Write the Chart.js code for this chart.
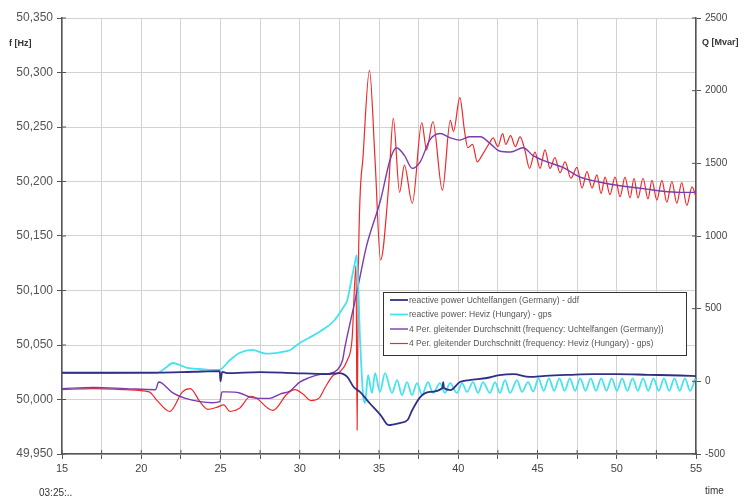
<!DOCTYPE html>
<html>
<head>
<meta charset="utf-8">
<script src="https://cdn.jsdelivr.net/npm/chart.js@4/dist/chart.umd.min.js"></script>
<style>
  html, body { margin: 0; padding: 0; background: #fff; }
  #wrap { width: 745px; height: 500px; }
</style>
</head>
<body>
<div id="wrap"><canvas id="chart" width="745" height="500"></canvas></div>
<script>
// reactive power Uchtelfangen (Mvar)
const qUchtT = [15, 18, 21, 23.3, 24.95, 25.0, 25.1, 25.4, 27.5, 29.6, 31.7, 32.5, 33.0, 33.4, 33.8, 34.4, 35.1, 35.6, 36.3, 36.8,
  37.1, 37.6, 38.2, 39.0, 39.05, 39.1, 39.5, 40.1, 40.7, 41.8, 42.6, 43.5, 44.5, 45.5, 47, 48.5, 50, 52, 54, 55];
const qUchtV = [59, 59, 60, 66, 70, 0, 65, 57, 64, 57, 50, 57, 30, -39, -73, -149, -232, -301, -287, -266,
  -197, -108, -73, -46, -5, -46, -60, -5, 9, 23, 43, 50, 30, 38, 45, 50, 50, 45, 40, 36];

// reactive power Heviz (Mvar)
const qHevT = [15, 18, 21, 21.5, 22.0, 22.5, 22.9, 23.7, 24.5, 24.9, 25.6, 26.2, 27.0, 27.9, 28.75, 29.4, 30.0, 30.6, 31.3, 32.1,
  32.7, 33.0, 33.2, 33.45, 33.6, 33.8, 34.0, 34.12, 34.31, 34.56, 34.75, 35.06, 35.38, 35.82, 36.14, 36.45, 36.77, 37.08, 37.40, 37.71,
  38.09, 38.41, 38.85, 39.16, 39.48, 39.92, 40.24, 40.55, 40.93, 41.25, 41.56, 42.00, 42.32, 42.63, 42.95, 43.27, 43.71, 44.02, 44.40, 44.73,
  45.06, 45.39, 45.72, 46.05, 46.38, 46.71, 47.04, 47.37, 47.70, 48.03, 48.36, 48.69, 49.02, 49.35, 49.68, 50.01, 50.34, 50.67, 51.00, 51.33,
  51.66, 51.99, 52.32, 52.65, 52.98, 53.31, 53.64, 53.97, 54.30, 54.63, 54.96];
const qHevV = [57, 57, 57, 90, 126, 110, 92, 85, 78, 78, 147, 195, 216, 190, 200, 216, 264, 300, 345, 410,
  500, 560, 663, 800, 869, 300, -100, -149, 43, -80, 57, -73, 57, -80, 9, -94, -5, -94, -12, -94,
  -5, -80, -12, -80, -12, -80, -12, -73, -5, -80, -5, -80, -5, -80, 9, -80, 9, -73, -5, -70,
  20, -65, 20, -65, 20, -65, 20, -65, 20, -65, 20, -65, 20, -65, 20, -65, 20, -65, 20, -65,
  20, -65, 20, -65, 20, -65, 20, -65, 20, -65, 20];

// 4 Per. gleitender Durchschnitt, frequency Uchtelfangen (Hz)
const fUchtT = [15, 17, 19, 20.9, 21.1, 21.3, 22.0, 22.8, 23.7, 24.5, 24.95, 25.1, 25.4, 26.2, 26.9, 27.5, 28.1, 28.75, 29.4, 30.0,
  30.6, 31.3, 31.9, 32.35, 32.7, 32.85, 33.6, 34.2, 35.1, 35.7, 36.1, 36.6, 37.1, 37.6, 38.2, 38.85, 39.5, 40.1, 40.7, 41.4,
  42.0, 42.6, 43.3, 44.1, 44.7, 45.6, 46.6, 47.7, 48.75, 49.8, 50.8, 51.9, 52.9, 54.0, 55];
const fUchtV = [50.010, 50.011, 50.010, 50.009, 50.016, 50.015, 50.006, 50.001, 49.998, 49.997, 49.998, 50.007, 50.007, 50.006, 50.002, 50.001, 50.001, 50.005, 50.008, 50.016,
  50.020, 50.023, 50.024, 50.027, 50.036, 50.048, 50.098, 50.140, 50.183, 50.220, 50.231, 50.224, 50.212, 50.218, 50.238, 50.244, 50.240, 50.238, 50.241, 50.241,
  50.235, 50.228, 50.227, 50.231, 50.224, 50.218, 50.213, 50.204, 50.200, 50.197, 50.195, 50.193, 50.191, 50.190, 50.190];

// 4 Per. gleitender Durchschnitt, frequency Heviz (Hz)
const fHevT = [15, 17, 19, 20.5, 21.0, 21.8, 22.6, 23.1, 23.7, 24.2, 24.8, 25.2, 25.6, 26.2, 26.9, 27.3, 27.9, 28.3, 29.2, 29.7,
  30.2, 30.7, 31.2, 31.6, 32.1, 32.5, 33.0, 33.3, 33.55, 33.62, 33.7, 34.0, 34.4, 34.75, 35.1, 35.6, 35.9, 36.3, 36.6, 37.1,
  37.7, 38.0, 38.4, 39.0, 39.5, 39.7, 40.1, 40.4, 40.6, 40.9, 41.2, 41.5, 42.0, 42.2, 42.5, 42.8, 43.0, 43.3, 43.6, 43.9,
  44.2, 44.5, 44.84, 45.16, 45.47, 45.79, 46.10, 46.42, 46.74, 47.11, 47.49, 47.81, 48.12, 48.44, 48.75, 49.01, 49.26, 49.57, 49.89, 50.21,
  50.52, 50.84, 51.09, 51.34, 51.66, 51.97, 52.22, 52.53, 52.85, 53.16, 53.48, 53.79, 54.10, 54.42, 54.75, 55];
const fHevV = [50.009, 50.010, 50.009, 50.007, 49.999, 49.989, 50.007, 50.010, 49.998, 49.991, 49.993, 49.995, 49.989, 49.992, 50.003, 50.001, 49.993, 49.990, 50.005, 50.009,
  50.005, 49.999, 50.001, 50.011, 50.022, 50.025, 50.036, 50.055, 50.123, 49.972, 50.123, 50.224, 50.302, 50.220, 50.128, 50.194, 50.258, 50.190, 50.215, 50.180,
  50.254, 50.229, 50.255, 50.192, 50.256, 50.246, 50.277, 50.246, 50.231, 50.234, 50.218, 50.224, 50.236, 50.240, 50.232, 50.244, 50.234, 50.242, 50.232, 50.241,
  50.229, 50.212, 50.227, 50.212, 50.229, 50.212, 50.222, 50.208, 50.218, 50.203, 50.213, 50.194, 50.209, 50.194, 50.206, 50.189, 50.204, 50.188, 50.204, 50.186,
  50.204, 50.185, 50.203, 50.185, 50.203, 50.184, 50.201, 50.183, 50.201, 50.181, 50.200, 50.180, 50.199, 50.178, 50.195, 50.186];

const seriesLabels = [
  'reactive power Uchtelfangen (Germany) - ddf',
  'reactive power: Heviz (Hungary) - gps',
  '4 Per. gleitender Durchschnitt (frequency: Uchtelfangen (Germany))',
  '4 Per. gleitender Durchschnitt (frequency: Heviz (Hungary) - gps)'
];

function pts(t, v) {
  return t.map((x, i) => ({x: x, y: v[i]}));
}

const axisFont = 'Liberation Sans, Arial, sans-serif';

// little crosses on the axes, like the original spreadsheet chart
const crossTicks = {
  id: 'crossTicks',
  afterDraw(chart) {
    const c = chart.ctx, ca = chart.chartArea;
    c.save();
    c.strokeStyle = '#555';
    c.lineWidth = 1;
    c.beginPath();
    chart.scales.x.ticks.forEach(t => {
      const px = chart.scales.x.getPixelForValue(t.value);
      c.moveTo(px, ca.bottom - 4);
      c.lineTo(px, ca.bottom);
    });
    chart.scales.yF.ticks.forEach(t => {
      const py = chart.scales.yF.getPixelForValue(t.value);
      c.moveTo(ca.left, py);
      c.lineTo(ca.left + 4, py);
    });
    chart.scales.yQ.ticks.forEach(t => {
      const py = chart.scales.yQ.getPixelForValue(t.value);
      c.moveTo(ca.right - 4, py);
      c.lineTo(ca.right, py);
    });
    c.stroke();
    c.restore();
  }
};

const textPlugin = {
  id: 'texts',
  afterDraw(chart) {
    const c = chart.ctx;
    c.save();
    c.fillStyle = '#333';
    c.font = 'bold 9px ' + axisFont;
    c.textBaseline = 'middle';
    c.textAlign = 'left';
    c.fillText('f [Hz]', 9, 44);
    c.fillText('Q [Mvar]', 702, 43);
    c.font = '10px ' + axisFont;
    c.fillText('time', 705, 491);
    c.fillText('03:25:..', 39, 493);
    c.restore();
  }
};

const legendPlugin = {
  id: 'boxLegend',
  afterDatasetsDraw(chart) {
    const c = chart.ctx;
    const bx = 383, by = 292, bw = 303, bh = 63;
    c.save();
    c.fillStyle = '#fff';
    c.fillRect(bx, by, bw, bh);
    c.strokeStyle = '#333';
    c.lineWidth = 1;
    c.strokeRect(bx + 0.5, by + 0.5, bw, bh);
    c.font = '8.5px ' + axisFont;
    c.textBaseline = 'middle';
    chart.data.datasets.forEach((ds, i) => {
      const y = by + 8 + i * 14.5;
      c.strokeStyle = ds.borderColor;
      c.lineWidth = ds.borderWidth;
      c.beginPath();
      c.moveTo(bx + 7, y);
      c.lineTo(bx + 25, y);
      c.stroke();
      c.fillStyle = '#555';
      c.fillText(ds.label, bx + 26, y + 0.5);
    });
    c.restore();
  }
};

new Chart(document.getElementById('chart'), {
  type: 'line',
  data: {
    datasets: [
      {label: seriesLabels[0], data: pts(qUchtT, qUchtV), yAxisID: 'yQ', borderColor: '#2f2f86', borderWidth: 1.8},
      {label: seriesLabels[1], data: pts(qHevT, qHevV), yAxisID: 'yQ', borderColor: '#45e3f0', borderWidth: 1.8},
      {label: seriesLabels[2], data: pts(fUchtT, fUchtV), yAxisID: 'yF', borderColor: '#7a3cae', borderWidth: 1.4},
      {label: seriesLabels[3], data: pts(fHevT, fHevV), yAxisID: 'yF', borderColor: '#f02828', borderWidth: 1.2}
    ]
  },
  options: {
    responsive: false,
    animation: false,
    layout: {padding: {top: 18}},
    elements: {
      point: {radius: 0},
      line: {cubicInterpolationMode: 'monotone'}
    },
    plugins: {
      legend: {display: false},
      tooltip: {enabled: false}
    },
    scales: {
      x: {
        type: 'linear',
        min: 15,
        max: 55,
        afterFit(s) { s.height = 46; },
        border: {color: '#555', width: 1.5},
        grid: {color: '#d2d2d2', tickLength: 5, tickColor: '#555'},
        ticks: {
          stepSize: 2.5,
          autoSkip: false,
          maxRotation: 0,
          padding: 3,
          color: '#444',
          font: {family: axisFont, size: 11},
          callback: v => (v % 5 === 0 ? String(v) : '')
        }
      },
      yF: {
        position: 'left',
        min: 49.95,
        max: 50.35,
        afterFit(s) { s.width = 62; },
        border: {color: '#555', width: 1.5},
        grid: {color: '#d2d2d2', tickLength: 5, tickColor: '#555'},
        ticks: {
          stepSize: 0.05,
          padding: 4,
          color: '#555',
          font: {family: axisFont, size: 12},
          callback: v => v.toFixed(3).replace('.', ',')
        }
      },
      yQ: {
        position: 'right',
        min: -500,
        max: 2500,
        afterFit(s) { s.width = 49; },
        border: {color: '#555', width: 1.5},
        grid: {drawOnChartArea: false, tickLength: 5, tickColor: '#555'},
        ticks: {
          stepSize: 500,
          padding: 4,
          color: '#444',
          font: {family: axisFont, size: 10},
          callback: v => String(v)
        }
      }
    }
  },
  plugins: [legendPlugin, textPlugin, crossTicks]
});
</script>
</body>
</html>
